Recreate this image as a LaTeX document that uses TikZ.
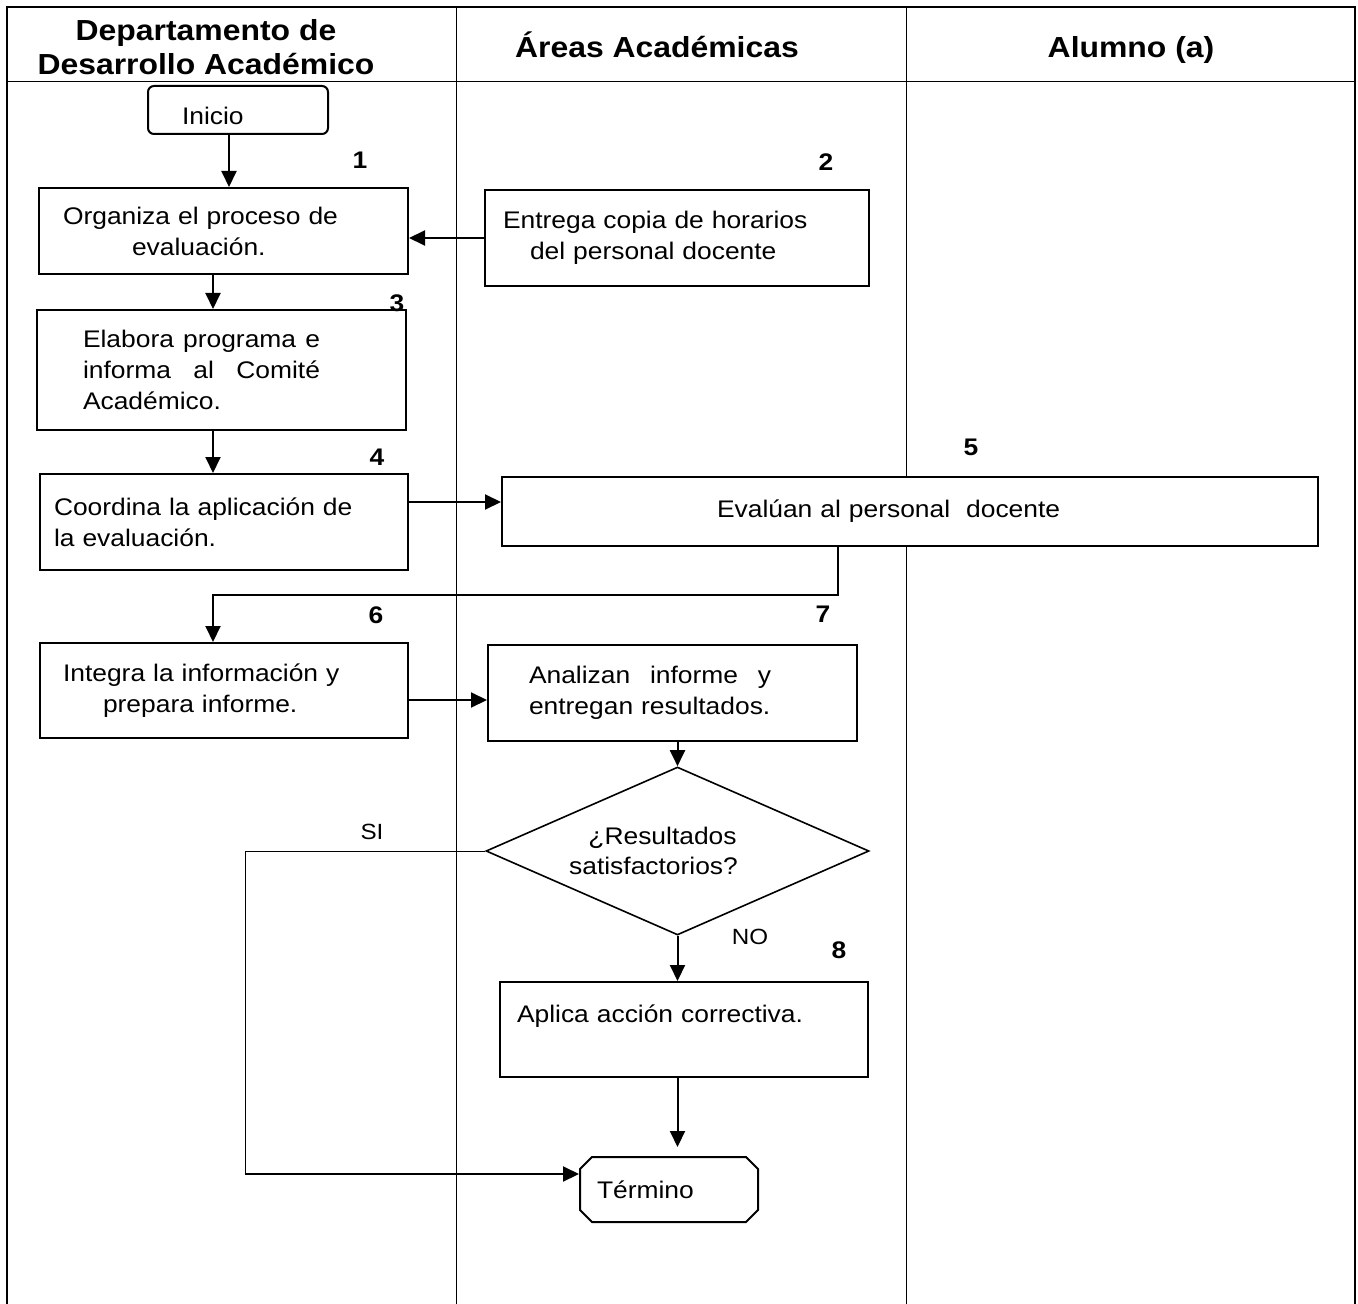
\documentclass[tikz,border=0pt]{standalone}
\usepackage{fontspec}
\setmainfont{Liberation Sans}[FakeStretch=1.1]
\usetikzlibrary{arrows.meta,shapes.geometric,shapes.misc,positioning}

\tikzset{
    laneline/.style={line width=0.5pt},
    frameline/.style={line width=0.9pt},
    procbox/.style={draw, fill=white, line width=1pt, inner sep=0pt, align=left,
        font=\fontsize{12}{15.5}\selectfont},
    decbox/.style={draw, fill=white, diamond, line width=0.8pt, aspect=2.28, inner sep=0pt,
        minimum width=191.5pt, minimum height=84pt, text width=100pt, align=center,
        font=\fontsize{12}{15}\selectfont},
    endbox/.style={draw, fill=white, chamfered rectangle, chamfered rectangle xsep=3pt,
        chamfered rectangle ysep=3pt, line width=1pt, inner sep=0pt, align=left,
        font=\fontsize{12}{15.5}\selectfont},
    arr/.style={line width=1pt, -{Triangle[length=8pt,width=7.5pt]}},
    numlbl/.style={font=\fontsize{12}{14}\selectfont\bfseries},
    lanehead/.style={font=\fontsize{14.5}{17}\selectfont\bfseries, align=center},
    lbl/.style={font=\fontsize{11}{13}\selectfont},
}

\begin{document}
\begin{tikzpicture}[x=0.5pt,y=-0.5pt]
    \useasboundingbox (0,0) rectangle (1358,1304);

    % Swimlanes.
    \draw[frameline] (7,1304) -- (7,7) -- (1355,7) -- (1355,1304);
    \draw[laneline] (7,82) -- (1355,82);
    \foreach \X in {456,906}
        \draw[laneline] (\X,7) -- (\X,1304);

    \node[lanehead] (h1) at (206,47) {Departamento de\\Desarrollo Académico};
    \node[lanehead, anchor=base] (h2) at (657,58) {Áreas Académicas};
    \node[lanehead, anchor=base] (h3) at (1131,58) {Alumno (a)};

    % Steps.
    \node[procbox, rounded corners=3pt, minimum width=90pt, minimum height=24pt,
        text width=56pt, text height=14.6pt, text depth=0pt] (ini) at (238,110) {Inicio};
    \node[procbox, minimum width=184.5pt, minimum height=43pt, text width=160.5pt]
        (org) at (223.5,231) {Organiza el proceso de\\\hspace*{34.5pt}evaluación.};
    \node[procbox, minimum width=192pt, minimum height=48pt, text width=174pt]
        (ent) at (677,238) {Entrega copia de horarios\\\hspace*{13.5pt}del personal docente};
    \node[procbox, minimum width=184.5pt, minimum height=60pt, text width=138.5pt]
        (elab) at (221.5,370) {\makebox[118.5pt][s]{Elabora\hfill programa\hfill e}\\
        \makebox[118.5pt][s]{informa\hfill al\hfill Comité}\\Académico.};
    \node[procbox, minimum width=184pt, minimum height=48pt, text width=170pt]
        (coord) at (224,522) {Coordina la aplicación de\\la evaluación.};
    \node[procbox, minimum width=408pt, minimum height=34.5pt, text width=193pt]
        (eval) at (910,511.5) {Evalúan al personal\ \ docente};
    \node[procbox, minimum width=184pt, minimum height=47.5pt, text width=161pt]
        (integ) at (224,690.5) {Integra la información y\\\hspace*{20pt}prepara informe.};
    \node[procbox, minimum width=184.5pt, minimum height=48pt, text width=143.5pt]
        (anal) at (672.5,693) {\makebox[121pt][s]{Analizan\hfill informe\hfill y}\\entregan resultados.};
    \node[decbox] (dec) at (677.5,851)
        {\hspace*{-15pt}¿Resultados\\\hspace*{-24pt}satisfactorios?};
    \node[procbox, minimum width=184pt, minimum height=47.5pt, text width=167pt]
        (corr) at (684,1029.5) {Aplica acción correctiva.\\\mbox{}};
    \node[endbox, minimum width=89pt, minimum height=32.5pt, text width=72pt]
        (term) at (669,1189.5) {Término};

    % Step numbers.
    \foreach \n/\x/\y in {1/360/160, 2/826/162, 3/397/303, 4/377/457,
                          5/971/447, 6/376/615, 7/823/614, 8/839/950}
        \node[numlbl] (n\n) at (\x,\y) {\n};

    \node[lbl] (si) at (372,832) {SI};
    \node[lbl] (no) at (750,937) {NO};

    % Connectors.
    \coordinate (xin) at (229,0);
    \coordinate (xa) at (213,0);
    \coordinate (xe) at (838,0);
    \coordinate (yb) at (0,595);
    \coordinate (y4) at (0,502);
    \coordinate (y6) at (0,700);
    \coordinate (sic) at (245,1174);

    \draw[arr] (ini.south -| xin) -- (org.north -| xin);
    \draw[arr] (ent.west) -- (ent.west -| org.east);
    \draw[arr] (org.south -| xa) -- (elab.north -| xa);
    \draw[arr] (elab.south -| xa) -- (coord.north -| xa);
    \draw[arr] (coord.east |- y4) -- (eval.west |- y4);
    \draw[arr] (eval.south -| xe) -- (xe |- yb) -| (integ.north -| xa);
    \draw[arr] (integ.east |- y6) -- (anal.west |- y6);
    \draw[arr] (anal.south -| dec.north) -- (dec.north);
    \draw[arr] (dec.south) -- (corr.north -| dec.south);
    \draw[arr, shorten >=4.5pt] (corr.south -| dec.south) -- (term.north -| dec.south);
    \draw[laneline] (dec.west) -| (sic);
    \draw[arr] (sic) -- (term.west |- sic);
\end{tikzpicture}
\end{document}
